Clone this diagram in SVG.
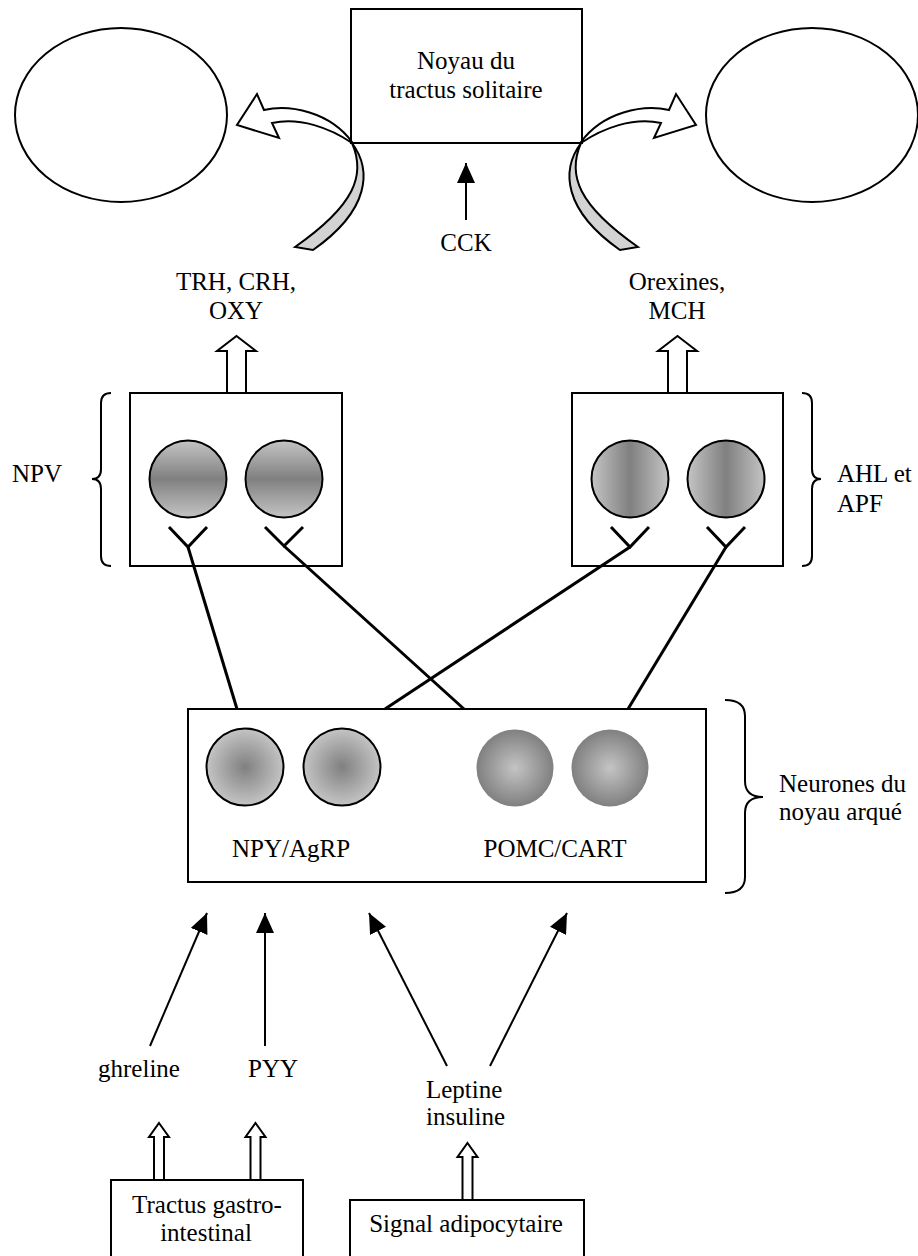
<svg xmlns="http://www.w3.org/2000/svg" width="918" height="1256" viewBox="0 0 918 1256">
<style>
.box{fill:#fff;stroke:#000;stroke-width:2}
.ell{fill:#fff;stroke:#000;stroke-width:2}
.t{font-family:"Liberation Serif","Times New Roman",serif;font-size:25px;fill:#000}
.m{text-anchor:middle}
.conn{stroke:#000;stroke-width:3;fill:none}
.arr{stroke:#000;stroke-width:2;fill:none;marker-end:url(#head)}
.hollow{fill:#fff;stroke:#000;stroke-width:2;stroke-linejoin:miter}
.brace{fill:none;stroke:#000;stroke-width:2}
.curv{fill:#fff;stroke:#000;stroke-width:2;stroke-linejoin:miter}
.back{fill:#d3d3d3;stroke:#000;stroke-width:2}
.cell{stroke:#000;stroke-width:2}
</style>
<defs>
<marker id="head" viewBox="0 0 20 18" refX="20" refY="9" markerWidth="20" markerHeight="18" markerUnits="userSpaceOnUse" orient="auto">
<path d="M0,0 L20,9 L0,18 Z" fill="#000"/>
</marker>
<linearGradient id="gv" x1="0" y1="0" x2="0" y2="1">
<stop offset="0" stop-color="#c4c4c4"/><stop offset="0.5" stop-color="#808080"/><stop offset="1" stop-color="#c4c4c4"/>
</linearGradient>
<linearGradient id="gh" x1="0" y1="0" x2="1" y2="0">
<stop offset="0" stop-color="#c4c4c4"/><stop offset="0.5" stop-color="#808080"/><stop offset="1" stop-color="#c4c4c4"/>
</linearGradient>
<radialGradient id="gin" cx="0.5" cy="0.5" r="0.5">
<stop offset="0" stop-color="#808080"/><stop offset="1" stop-color="#c4c4c4"/>
</radialGradient>
<radialGradient id="gout" cx="0.5" cy="0.5" r="0.5">
<stop offset="0" stop-color="#c4c4c4"/><stop offset="1" stop-color="#808080"/>
</radialGradient>
<path id="hbig" d="M0,0 L19.5,15 L9.5,15 L9.5,57 L-9.5,57 L-9.5,15 L-19.5,15 Z"/>
<path id="hsmall" d="M0,0 L10,14 L5,14 L5,57 L-5,57 L-5,14 L-10,14 Z"/>
<g id="curved">
<path class="back" d="M352,143 C372,170 370,210 313,250 L295,247 C355,205 366,175 352,143 Z"/>
<path class="curv" d="M352,142 C330,112 290,104 264,110 L257,94 L237,125 L279,138 L272,123 C300,117 330,128 352,143 Z"/>
</g>
</defs>

<g id="ellipse-left"><ellipse class="ell" cx="121" cy="115" rx="106" ry="87"/></g>
<g id="ellipse-right"><ellipse class="ell" cx="812" cy="115" rx="106" ry="87"/></g>

<g id="nts">
<rect class="box" x="351" y="9" width="231" height="134"/>
<text class="t m" x="466" y="69">Noyau du</text>
<text class="t m" x="466" y="98">tractus solitaire</text>
</g>

<g id="label-cck"><text class="t m" x="466" y="251">CCK</text></g>
<g id="label-trh"><text class="t m" x="236" y="290">TRH, CRH,</text><text class="t m" x="236" y="319">OXY</text></g>
<g id="label-orexines"><text class="t m" x="677" y="290">Orexines,</text><text class="t m" x="677" y="319">MCH</text></g>

<g id="npv">
<rect class="box" x="130" y="393" width="212" height="173"/>
<circle class="cell" cx="188" cy="479" r="38.5" fill="url(#gv)"/>
<circle class="cell" cx="284" cy="479" r="38.5" fill="url(#gv)"/>
<path class="brace" d="M111,393 Q101,393 101,403 L101,469 Q101,479 92,479 Q101,479 101,489 L101,556 Q101,566 111,566"/>
<text class="t m" x="37" y="482">NPV</text>
</g>

<g id="ahl">
<rect class="box" x="572" y="393" width="211" height="173"/>
<circle class="cell" cx="630" cy="479" r="38.5" fill="url(#gh)"/>
<circle class="cell" cx="726" cy="479" r="38.5" fill="url(#gh)"/>
<path class="brace" d="M802,393 Q812,393 812,403 L812,469 Q812,479 821,479 Q812,479 812,489 L812,556 Q812,566 802,566"/>
<text class="t" x="837" y="482">AHL et</text>
<text class="t" x="837" y="512">APF</text>
</g>

<g id="arcuate">
<rect class="box" x="188" y="709" width="518" height="173"/>
<circle class="cell" cx="245" cy="767" r="38.5" fill="url(#gin)"/>
<circle class="cell" cx="342" cy="767" r="38.5" fill="url(#gin)"/>
<circle cx="515" cy="768" r="38.5" fill="url(#gout)"/>
<circle cx="610" cy="768" r="38.5" fill="url(#gout)"/>
<text class="t m" x="291" y="857">NPY/AgRP</text>
<text class="t m" x="555" y="857">POMC/CART</text>
<path class="brace" d="M725,700 Q745,700 745,716 L745,781 Q745,797 763,797 Q745,797 745,813 L745,877 Q745,893 725,893"/>
<text class="t" x="779" y="792">Neurones du</text>
<text class="t" x="779" y="820">noyau arqué</text>
</g>

<g id="label-ghreline"><text class="t m" x="139" y="1077">ghreline</text></g>
<g id="label-pyy"><text class="t m" x="273" y="1077">PYY</text></g>
<g id="label-leptine"><text class="t" x="426" y="1098">Leptine</text><text class="t" x="426" y="1125">insuline</text></g>

<g id="tractus">
<rect class="box" x="111" y="1180" width="192" height="90"/>
<text class="t m" x="207" y="1213">Tractus gastro-</text>
<text class="t m" x="206" y="1241">intestinal</text>
</g>

<g id="adipo">
<rect class="box" x="350" y="1200" width="234" height="70"/>
<text class="t m" x="466" y="1232">Signal adipocytaire</text>
</g>

<g id="connectors">
<use href="#curved"/>
<use href="#curved" transform="translate(933,0) scale(-1,1)"/>
<line class="arr" x1="466" y1="220" x2="466" y2="163"/>
<use href="#hbig" class="hollow" transform="translate(236.5,336)"/>
<use href="#hbig" class="hollow" transform="translate(677.5,336)"/>
<polyline class="conn" points="169,527 188,547 207,527"/>
<line class="conn" x1="188" y1="547" x2="237" y2="709"/>
<polyline class="conn" points="265,527 284,546 303,527"/>
<line class="conn" x1="284" y1="546" x2="464" y2="709"/>
<polyline class="conn" points="611,527 630,547 649,527"/>
<line class="conn" x1="630" y1="547" x2="385" y2="709"/>
<polyline class="conn" points="707,527 726,547 745,527"/>
<line class="conn" x1="726" y1="547" x2="628" y2="709"/>
<line class="arr" x1="150" y1="1046" x2="207" y2="913"/>
<line class="arr" x1="265" y1="1046" x2="265" y2="913"/>
<line class="arr" x1="447" y1="1066" x2="369" y2="913"/>
<line class="arr" x1="490" y1="1066" x2="567" y2="913"/>
<use href="#hsmall" class="hollow" transform="translate(159,1123)"/>
<use href="#hsmall" class="hollow" transform="translate(255.5,1123)"/>
<use href="#hsmall" class="hollow" transform="translate(467.5,1143)"/>
</g>
</svg>
